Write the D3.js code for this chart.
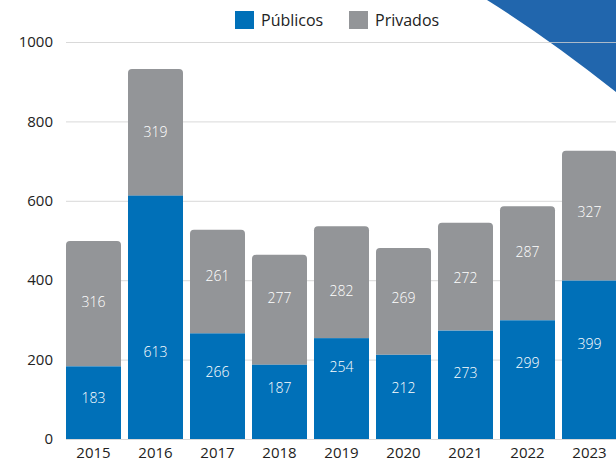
<!DOCTYPE html>
<html>
<head>
<meta charset="utf-8">
<script src="https://cdn.jsdelivr.net/npm/d3@7"></script>
<style>
  body { margin: 0; background: #fff; }
  svg { display: block; font-family: "Open Sans", "Noto Sans", sans-serif; }
</style>
</head>
<body>
<script>
var years = ["2015", "2016", "2017", "2018", "2019", "2020", "2021", "2022", "2023"];
var publicos = [183, 613, 266, 187, 254, 212, 273, 299, 399];
var privados = [316, 319, 261, 277, 282, 269, 272, 287, 327];
// value (in chart units) where each label sits, as placed in the original
var publicosLabelAt = [103, 219, 169, 128, 181, 128, 166, 191, 239];
var privadosLabelAt = [345, 773, 411, 355, 373, 355, 406, 471, 572];
var yTicks = [0, 200, 400, 600, 800, 1000];
var seriesNames = ["Públicos", "Privados"];
var colors = ["#0070b8", "#939598"];

window.onload = function () {
    drawChart();
};

function drawChart() {
    var width = 616,
        height = 462;

    var svg = d3.select("body")
        .append("svg")
        .attr("width", width)
        .attr("height", height);

    var x = d3.scaleBand()
        .domain(years)
        .range([66, 617])
        .paddingInner(0.113)
        .paddingOuter(0);

    var y = d3.scaleLinear()
        .domain([0, 1000])
        .range([439, 42]);

    // decorative corner shape
    svg.append("path")
        .attr("d", "M487,0 Q548,38 616,92 L616,0 Z")
        .attr("fill", "#2166ad");

    // gridlines
    svg.selectAll(".grid")
        .data(yTicks)
        .enter()
        .append("line")
        .attr("x1", 66)
        .attr("x2", width)
        .attr("y1", function (d) { return y(d) + 0.5; })
        .attr("y2", function (d) { return y(d) + 0.5; })
        .attr("stroke", "#cfcfcf")
        .attr("stroke-opacity", 0.8)
        .attr("stroke-width", 1);

    svg.selectAll(".ytick")
        .data(yTicks)
        .enter()
        .append("text")
        .attr("x", 53)
        .attr("y", function (d) { return y(d); })
        .attr("dy", "0.35em")
        .attr("text-anchor", "end")
        .attr("font-size", 15)
        .attr("fill", "#222")
        .text(function (d) { return d; });

    var rows = years.map(function (yr, i) {
        return {
            year: yr, pub: publicos[i], priv: privados[i],
            pubAt: publicosLabelAt[i], privAt: privadosLabelAt[i]
        };
    });

    var r = 4;
    var bw = x.bandwidth();

    // private segment (top, rounded corners)
    svg.selectAll(".priv")
        .data(rows)
        .enter()
        .append("path")
        .attr("fill", colors[1])
        .attr("d", function (d) {
            var x0 = x(d.year), x1 = x0 + bw;
            var top = y(d.pub + d.priv), bot = y(d.pub);
            return "M" + x0 + "," + bot +
                " L" + x0 + "," + (top + r) +
                " Q" + x0 + "," + top + " " + (x0 + r) + "," + top +
                " L" + (x1 - r) + "," + top +
                " Q" + x1 + "," + top + " " + x1 + "," + (top + r) +
                " L" + x1 + "," + bot + " Z";
        });

    svg.selectAll(".pub")
        .data(rows)
        .enter()
        .append("rect")
        .attr("x", function (d) { return x(d.year); })
        .attr("y", function (d) { return y(d.pub); })
        .attr("width", bw)
        .attr("height", function (d) { return y(0) - y(d.pub); })
        .attr("fill", colors[0]);

    // value labels
    svg.selectAll(".pubLabel")
        .data(rows)
        .enter()
        .append("text")
        .attr("x", function (d) { return x(d.year) + bw / 2; })
        .attr("y", function (d) { return y(d.pubAt); })
        .attr("dy", "0.35em")
        .attr("text-anchor", "middle")
        .attr("font-size", 14)
        .attr("font-weight", 300)
        .attr("fill", "#fff")
        .text(function (d) { return d.pub; });

    svg.selectAll(".privLabel")
        .data(rows)
        .enter()
        .append("text")
        .attr("x", function (d) { return x(d.year) + bw / 2; })
        .attr("y", function (d) { return y(d.privAt); })
        .attr("dy", "0.35em")
        .attr("text-anchor", "middle")
        .attr("font-size", 14)
        .attr("font-weight", 300)
        .attr("fill", "#fff")
        .text(function (d) { return d.priv; });

    // x labels
    svg.selectAll(".xtick")
        .data(years)
        .enter()
        .append("text")
        .attr("x", function (d) { return x(d) + bw / 2; })
        .attr("y", 453)
        .attr("dy", "0.35em")
        .attr("text-anchor", "middle")
        .attr("font-size", 15)
        .attr("fill", "#222")
        .text(function (d) { return d; });

    // legend
    var legendX = [235, 349];
    var legend = svg.selectAll(".legend")
        .data(seriesNames)
        .enter()
        .append("g")
        .attr("transform", function (d, i) { return "translate(" + legendX[i] + ",11)"; });

    legend.append("rect")
        .attr("width", 19)
        .attr("height", 18)
        .attr("fill", function (d, i) { return colors[i]; });

    legend.append("text")
        .attr("x", 26)
        .attr("y", 9)
        .attr("dy", "0.35em")
        .attr("font-size", 16)
        .attr("fill", "#222")
        .text(function (d) { return d; });
}
</script>
</body>
</html>
